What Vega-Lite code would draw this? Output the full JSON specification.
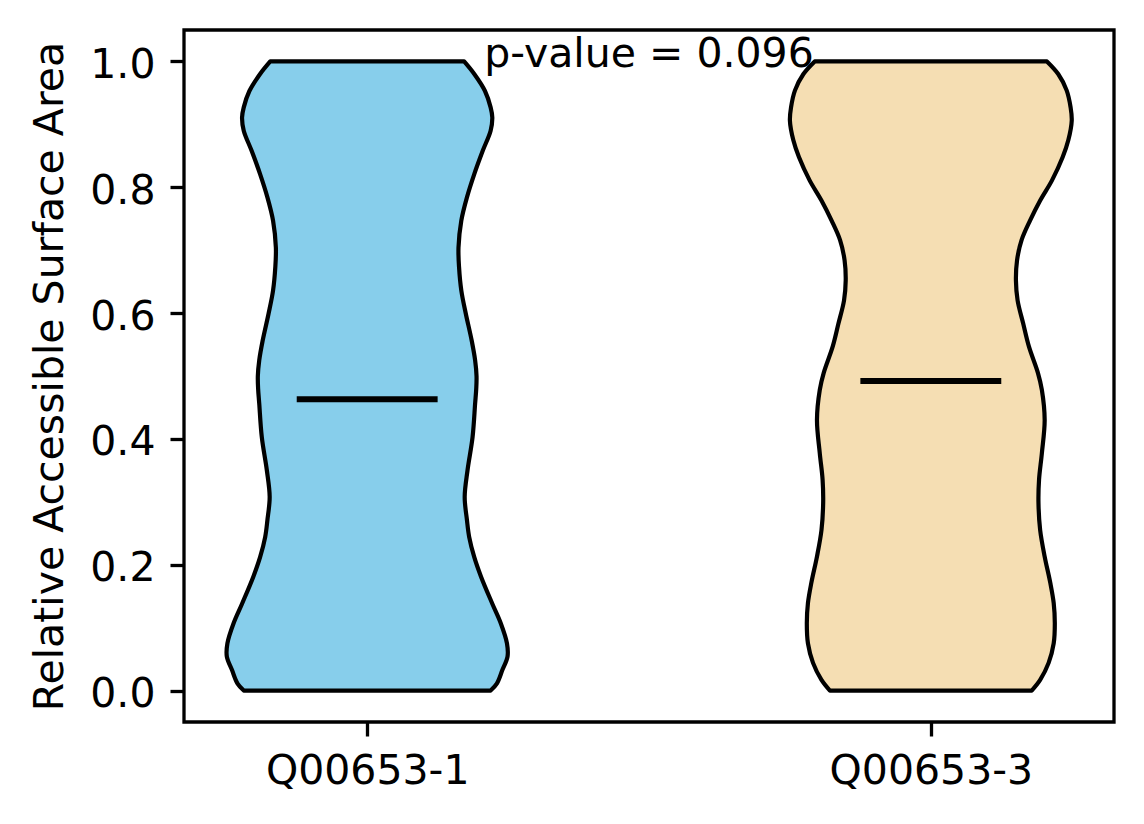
{
  "$schema": "https://vega.github.io/schema/vega-lite/v6.json",
  "width": 930,
  "height": 692,
  "autosize": {"type": "none"},
  "padding": {"left": 184, "top": 30, "right": 30, "bottom": 102},
  "background": "white",
  "config": {
    "font": "DejaVu Sans",
    "view": {"stroke": "black", "strokeWidth": 3.3},
    "axis": {
      "domain": false,
      "grid": false,
      "tickColor": "black",
      "tickWidth": 3.3,
      "tickSize": 14,
      "labelColor": "black",
      "labelFont": "DejaVu Sans",
      "labelFontSize": 41,
      "labelLimit": 0,
      "titleFont": "DejaVu Sans",
      "titleFontSize": 41,
      "titleFontWeight": "normal",
      "titleColor": "black",
      "titleLimit": 0
    }
  },
  "datasets": {
    "violin": [
      {"group": "Q00653-1", "rsa": 0.0, "lo": 0.781, "hi": 1.219},
      {"group": "Q00653-1", "rsa": 0.011, "lo": 0.77, "hi": 1.23},
      {"group": "Q00653-1", "rsa": 0.033, "lo": 0.76, "hi": 1.24},
      {"group": "Q00653-1", "rsa": 0.054, "lo": 0.751, "hi": 1.249},
      {"group": "Q00653-1", "rsa": 0.075, "lo": 0.752, "hi": 1.248},
      {"group": "Q00653-1", "rsa": 0.107, "lo": 0.763, "hi": 1.237},
      {"group": "Q00653-1", "rsa": 0.138, "lo": 0.778, "hi": 1.222},
      {"group": "Q00653-1", "rsa": 0.181, "lo": 0.798, "hi": 1.202},
      {"group": "Q00653-1", "rsa": 0.212, "lo": 0.81, "hi": 1.19},
      {"group": "Q00653-1", "rsa": 0.244, "lo": 0.819, "hi": 1.181},
      {"group": "Q00653-1", "rsa": 0.271, "lo": 0.823, "hi": 1.177},
      {"group": "Q00653-1", "rsa": 0.308, "lo": 0.827, "hi": 1.173},
      {"group": "Q00653-1", "rsa": 0.35, "lo": 0.822, "hi": 1.178},
      {"group": "Q00653-1", "rsa": 0.403, "lo": 0.813, "hi": 1.187},
      {"group": "Q00653-1", "rsa": 0.456, "lo": 0.8085, "hi": 1.1915},
      {"group": "Q00653-1", "rsa": 0.48, "lo": 0.8065, "hi": 1.1935},
      {"group": "Q00653-1", "rsa": 0.5, "lo": 0.806, "hi": 1.194},
      {"group": "Q00653-1", "rsa": 0.525, "lo": 0.8085, "hi": 1.1915},
      {"group": "Q00653-1", "rsa": 0.556, "lo": 0.8145, "hi": 1.1855},
      {"group": "Q00653-1", "rsa": 0.599, "lo": 0.825, "hi": 1.175},
      {"group": "Q00653-1", "rsa": 0.636, "lo": 0.833, "hi": 1.167},
      {"group": "Q00653-1", "rsa": 0.673, "lo": 0.837, "hi": 1.163},
      {"group": "Q00653-1", "rsa": 0.704, "lo": 0.838, "hi": 1.162},
      {"group": "Q00653-1", "rsa": 0.747, "lo": 0.833, "hi": 1.167},
      {"group": "Q00653-1", "rsa": 0.784, "lo": 0.823, "hi": 1.177},
      {"group": "Q00653-1", "rsa": 0.821, "lo": 0.81, "hi": 1.19},
      {"group": "Q00653-1", "rsa": 0.858, "lo": 0.795, "hi": 1.205},
      {"group": "Q00653-1", "rsa": 0.89, "lo": 0.781, "hi": 1.219},
      {"group": "Q00653-1", "rsa": 0.911, "lo": 0.778, "hi": 1.222},
      {"group": "Q00653-1", "rsa": 0.927, "lo": 0.781, "hi": 1.219},
      {"group": "Q00653-1", "rsa": 0.953, "lo": 0.791, "hi": 1.209},
      {"group": "Q00653-1", "rsa": 0.98, "lo": 0.81, "hi": 1.19},
      {"group": "Q00653-1", "rsa": 1.0, "lo": 0.828, "hi": 1.172},
      {"group": "Q00653-3", "rsa": 0.0, "lo": 1.821, "hi": 2.179},
      {"group": "Q00653-3", "rsa": 0.017, "lo": 1.806, "hi": 2.194},
      {"group": "Q00653-3", "rsa": 0.044, "lo": 1.791, "hi": 2.209},
      {"group": "Q00653-3", "rsa": 0.075, "lo": 1.782, "hi": 2.218},
      {"group": "Q00653-3", "rsa": 0.107, "lo": 1.78, "hi": 2.22},
      {"group": "Q00653-3", "rsa": 0.139, "lo": 1.782, "hi": 2.218},
      {"group": "Q00653-3", "rsa": 0.171, "lo": 1.788, "hi": 2.212},
      {"group": "Q00653-3", "rsa": 0.213, "lo": 1.798, "hi": 2.202},
      {"group": "Q00653-3", "rsa": 0.255, "lo": 1.806, "hi": 2.194},
      {"group": "Q00653-3", "rsa": 0.298, "lo": 1.809, "hi": 2.191},
      {"group": "Q00653-3", "rsa": 0.335, "lo": 1.808, "hi": 2.192},
      {"group": "Q00653-3", "rsa": 0.377, "lo": 1.803, "hi": 2.197},
      {"group": "Q00653-3", "rsa": 0.43, "lo": 1.798, "hi": 2.202},
      {"group": "Q00653-3", "rsa": 0.478, "lo": 1.803, "hi": 2.197},
      {"group": "Q00653-3", "rsa": 0.505, "lo": 1.81, "hi": 2.19},
      {"group": "Q00653-3", "rsa": 0.547, "lo": 1.826, "hi": 2.174},
      {"group": "Q00653-3", "rsa": 0.583, "lo": 1.836, "hi": 2.164},
      {"group": "Q00653-3", "rsa": 0.62, "lo": 1.846, "hi": 2.154},
      {"group": "Q00653-3", "rsa": 0.652, "lo": 1.849, "hi": 2.151},
      {"group": "Q00653-3", "rsa": 0.684, "lo": 1.847, "hi": 2.153},
      {"group": "Q00653-3", "rsa": 0.716, "lo": 1.839, "hi": 2.161},
      {"group": "Q00653-3", "rsa": 0.747, "lo": 1.824, "hi": 2.176},
      {"group": "Q00653-3", "rsa": 0.779, "lo": 1.806, "hi": 2.194},
      {"group": "Q00653-3", "rsa": 0.811, "lo": 1.785, "hi": 2.215},
      {"group": "Q00653-3", "rsa": 0.848, "lo": 1.766, "hi": 2.234},
      {"group": "Q00653-3", "rsa": 0.875, "lo": 1.756, "hi": 2.244},
      {"group": "Q00653-3", "rsa": 0.906, "lo": 1.75, "hi": 2.25},
      {"group": "Q00653-3", "rsa": 0.927, "lo": 1.752, "hi": 2.248},
      {"group": "Q00653-3", "rsa": 0.954, "lo": 1.759, "hi": 2.241},
      {"group": "Q00653-3", "rsa": 0.98, "lo": 1.774, "hi": 2.226},
      {"group": "Q00653-3", "rsa": 1.0, "lo": 1.794, "hi": 2.206}
    ],
    "medians": [
      {"group": "Q00653-1", "rsa": 0.463, "lo": 0.875, "hi": 1.125},
      {"group": "Q00653-3", "rsa": 0.492, "lo": 1.875, "hi": 2.125}
    ],
    "annotation": [
      {"label": "p-value = 0.096"}
    ]
  },
  "layer": [
    {
      "data": {"name": "violin"},
      "mark": {
        "type": "area",
        "orient": "horizontal",
        "interpolate": "catmull-rom",
        "stroke": "black",
        "strokeWidth": 4.2,
        "strokeJoin": "round",
        "opacity": 1
      },
      "encoding": {
        "y": {
          "field": "rsa",
          "type": "quantitative",
          "title": "Relative Accessible Surface Area",
          "scale": {"domain": [-0.05, 1.05], "nice": false, "zero": false},
          "axis": {
            "values": [0, 0.2, 0.4, 0.6, 0.8, 1.0],
            "format": ".1f",
            "labelBaseline": "alphabetic",
            "labelOffset": 16,
            "labelPadding": 15,
            "titleAngle": -90,
            "titleX": -122,
            "titleY": 346,
            "titleAlign": "center",
            "titleBaseline": "alphabetic"
          }
        },
        "x": {
          "field": "lo",
          "type": "quantitative",
          "title": null,
          "stack": null,
          "scale": {"domain": [0.675, 2.325], "nice": false, "zero": false},
          "axis": {
            "values": [1, 2],
            "labelExpr": "datum.value == 1 ? 'Q00653-1' : 'Q00653-3'",
            "labelPadding": 15
          }
        },
        "x2": {"field": "hi"},
        "color": {
          "field": "group",
          "type": "nominal",
          "scale": {"domain": ["Q00653-1", "Q00653-3"], "range": ["#87CEEB", "#F5DEB3"]},
          "legend": null
        }
      }
    },
    {
      "data": {"name": "medians"},
      "mark": {"type": "rule", "color": "black", "strokeWidth": 6},
      "encoding": {
        "y": {"field": "rsa", "type": "quantitative", "title": "Relative Accessible Surface Area"},
        "x": {"field": "lo", "type": "quantitative", "title": null},
        "x2": {"field": "hi"}
      }
    },
    {
      "data": {"name": "annotation"},
      "mark": {
        "type": "text",
        "align": "center",
        "baseline": "alphabetic",
        "dy": 6,
        "fontSize": 41,
        "font": "DejaVu Sans",
        "color": "black"
      },
      "encoding": {
        "x": {"datum": 1.5, "type": "quantitative"},
        "y": {"datum": 1.0, "type": "quantitative"},
        "text": {"field": "label"}
      }
    }
  ]
}
